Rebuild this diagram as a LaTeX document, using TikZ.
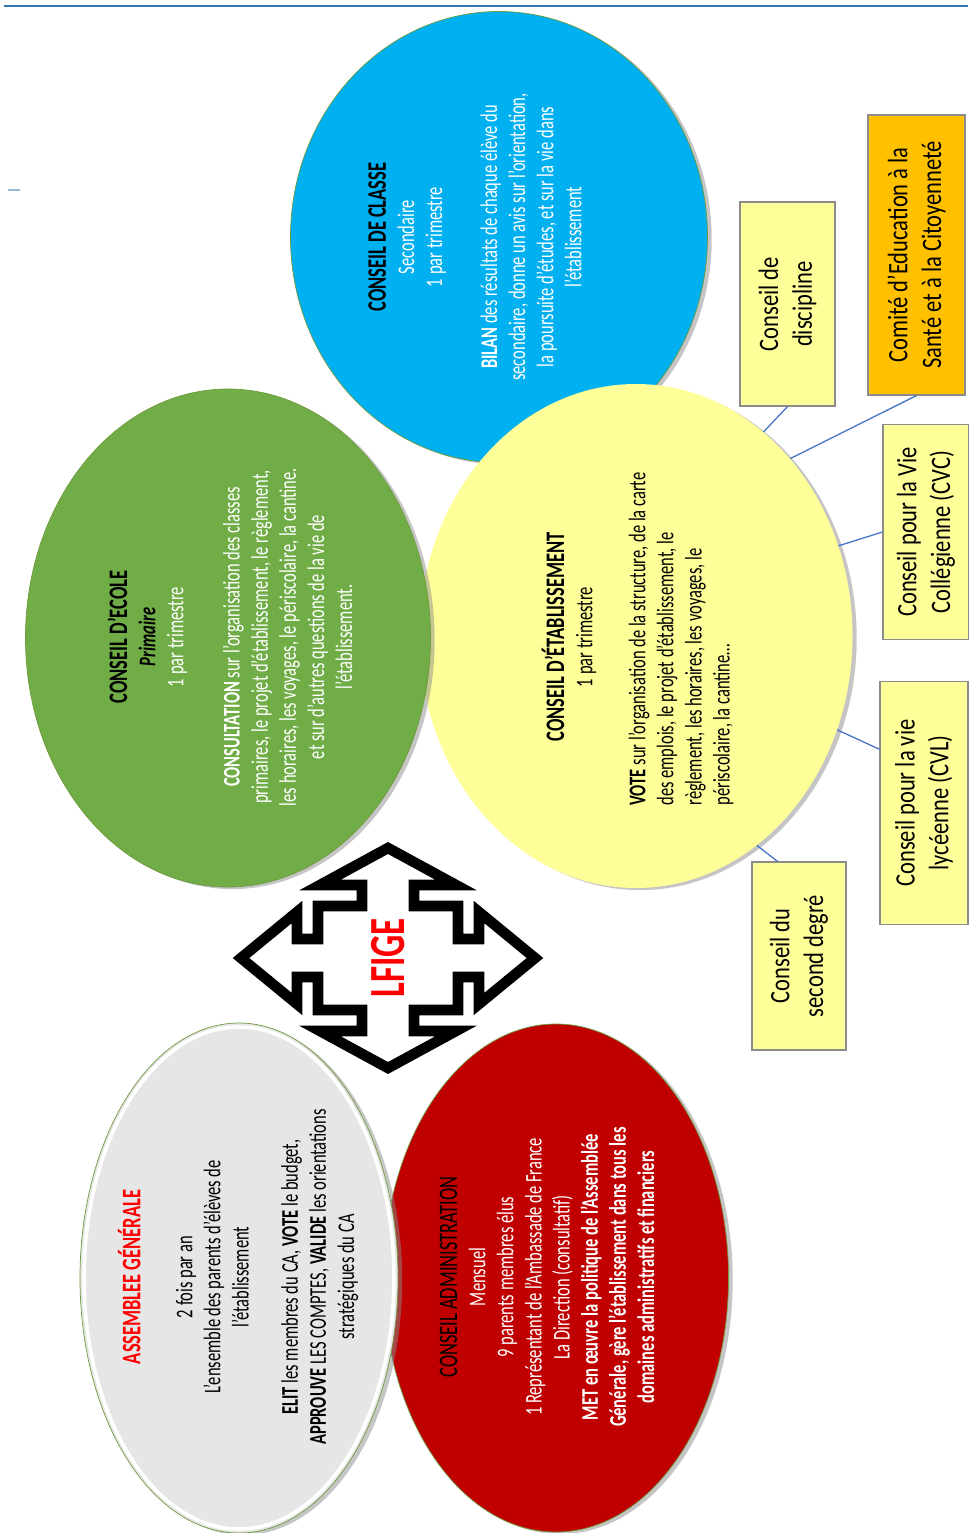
\documentclass[tikz,border=0pt]{standalone}
\usepackage{fontspec}
\setmainfont{Carlito}[FakeStretch=0.69]
\newfontfamily\boxfont{Carlito}[FakeStretch=0.8]
\usetikzlibrary{shapes.geometric, shadows, calc}
\definecolor{cblue}{HTML}{00B0F0}
\definecolor{cgreen}{HTML}{70AD47}
\definecolor{cyellow}{HTML}{FFFF99}
\definecolor{cgray}{HTML}{E7E6E6}
\definecolor{cred}{HTML}{C00000}
\definecolor{corange}{HTML}{FFC000}
\definecolor{cline}{HTML}{4472C4}
\definecolor{cedge}{HTML}{6F9A3F}
\definecolor{cboxedge}{HTML}{8C8C8C}
\definecolor{crule}{HTML}{2E75B6}
\newcommand\pxu{0.025cm}

\begin{document}
\begin{tikzpicture}[
    x=0.025cm, y=-0.025cm,
    bubble/.style={ellipse, draw=cedge, line width=0.5pt, inner sep=0pt, drop shadow={shadow xshift=3pt, shadow yshift=-1.5pt, fill=black!45}},
    txt/.style={rotate=90, align=center, inner sep=0pt, font=\fontsize{17}{20}\selectfont},
    box/.style={rectangle, draw=cboxedge, line width=0.8pt, fill=cyellow, rotate=90, align=center, inner sep=2pt, font=\boxfont\fontsize{20}{24}\selectfont},
    line/.style={draw=cline, line width=0.9pt},
    logo/.style={draw=black, line width=7.5pt, line join=miter}
]
\useasboundingbox (0,0) rectangle (968,1533);

\draw[crule, line width=2pt] (4,6) -- (968,6);
\draw[crule!50, line width=0.8pt] (8,190) -- (20,190);

\node[bubble, fill=cblue, minimum width=417*\pxu, minimum height=451*\pxu] (cdc) at (499,237) {};
\node[bubble, fill=cyellow, draw=none, minimum width=433*\pxu, minimum height=504*\pxu] (cet) at (636,636) {};
\node[bubble, fill=cgreen, minimum width=405*\pxu, minimum height=498*\pxu] (ce) at (228,638) {};
\node[bubble, fill=cred, minimum width=345*\pxu, minimum height=508*\pxu] (ca) at (556,1278) {};
\node[bubble, fill=cgray, minimum width=318*\pxu, minimum height=510*\pxu] (ag) at (239,1278) {};
\node[ellipse, draw=white, line width=2.5pt, minimum width=310*\pxu, minimum height=502*\pxu] (ag-rim) at (239,1278) {};

\node[txt, text=white] (cdc-txt) at (475,237) {{\color{black}\bfseries\fontsize{19}{20}\selectfont CONSEIL DE CLASSE}\\
    Secondaire\\
    1 par trimestre\\[19pt]
    \textbf{BILAN} des résultats de chaque élève du\\
    secondaire, donne un avis sur l’orientation,\\
    la poursuite d’études, et sur la vie dans\\
    l’établissement};

\node[txt, text=white] (ce-txt) at (230,637) {{\color{black}\bfseries\fontsize{19}{20}\selectfont CONSEIL D’ECOLE}\\
    {\color{black}\bfseries\itshape Primaire}\\
    1 par trimestre\\[20pt]
    \textbf{CONSULTATION} sur l’organisation des classes\\
    primaires, le projet d’établissement, le règlement,\\
    les horaires, les voyages, le périscolaire, la cantine.\\
    et sur d’autres questions de la vie de\\
    l’établissement.};

\node[txt] (cet-ttl) at (569,637) {{\bfseries\fontsize{19}{20}\selectfont CONSEIL D’ÉTABLISSEMENT}\\
    1 par trimestre};
\node[txt, align=left] (cet-txt) at (681,639) {\textbf{VOTE} sur l’organisation de la structure, de la carte\\
    des emplois, le projet d’établissement, le\\
    règlement, les horaires, les voyages, le\\
    périscolaire, la cantine…};

\node[txt] (ag-txt) at (238,1277) {{\color{red}\bfseries\fontsize{19}{20}\selectfont ASSEMBLEE GÉNÉRALE}\\[17pt]
    2 fois par an\\
    L’ensemble des parents d’élèves de\\
    l’établissement\\[15pt]
    \textbf{ELIT} les membres du CA, \textbf{VOTE} le budget,\\
    \textbf{APPROUVE} LES COMPTES, \textbf{VALIDE} les orientations\\
    stratégiques du CA};

\node[txt, text=white] (ca-txt) at (547,1277) {{\color{black}\fontsize{19}{20}\selectfont CONSEIL ADMINISTRATION}\\
    Mensuel\\
    9 parents membres élus\\
    1 Représentant de l’Ambassade de France\\
    La Direction (consultatif)\\
    \textbf{MET en œuvre la politique de l’Assemblée}\\
    \textbf{Générale, gère l’établissement dans tous les}\\
    \textbf{domaines administratifs et financiers}};

\node[box, minimum width=204*\pxu, minimum height=95*\pxu] (disc) at (787.5,304) {Conseil de\\discipline};
\node[box, fill=corange, minimum width=280*\pxu, minimum height=97*\pxu] (cesc) at (916.5,255) {Comité d’Education à la\\Santé et à la Citoyenneté};
\node[box, minimum width=215*\pxu, minimum height=86*\pxu] (cvc) at (926,532) {Conseil pour la Vie\\Collégienne (CVC)};
\node[box, minimum width=243*\pxu, minimum height=88*\pxu] (cvl) at (924,803) {Conseil pour la vie\\lycéenne (CVL)};
\node[box, minimum width=188*\pxu, minimum height=94*\pxu] (csd) at (799,956) {Conseil du\\second degré};

\path[line] (disc.west) -- (cet.58);
\path[line] (cesc.west) -- (cet.49);
\path[line] (cvc.north) -- (cet.24);
\path[line] ($(cvl.north)!0.44!(cvl.north east)$) -- (cet.-25);
\path[line] ($(csd.east)!0.45!(csd.north east)$) -- (cet.-60);

\begin{scope}[shift={(388,958)}]
    \draw[logo] (0,-110) -- (-68,-73) -- (-26,-73) -- (-26,-52) -- (-70,-52) -- (-70,-19) -- (-91,-19) -- (-91,-46) -- (-147,0)
        -- (-91,46) -- (-91,19) -- (-70,19) -- (-70,52) -- (-26,52) -- (-26,73) -- (-68,73) -- (0,110)
        -- (68,73) -- (26,73) -- (26,52) -- (70,52) -- (70,19) -- (91,19) -- (91,46) -- (147,0)
        -- (91,-46) -- (91,-19) -- (70,-19) -- (70,-52) -- (26,-52) -- (26,-73) -- (68,-73) -- cycle;
    \node[rotate=90, text=red, font=\bfseries\fontsize{36}{40}\selectfont] (lfige) at (0,0) {LFIGE};
\end{scope}
\end{tikzpicture}
\end{document}
